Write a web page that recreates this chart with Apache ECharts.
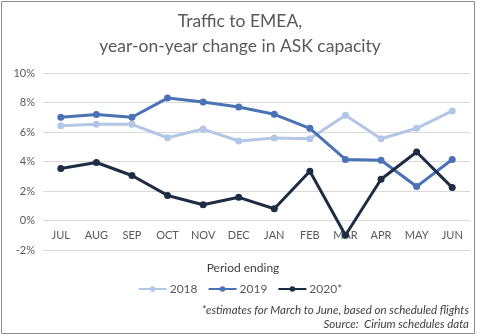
<!DOCTYPE html>
<html>
<head>
<meta charset="utf-8">
<style>
  html, body { margin: 0; padding: 0; background: #fff; }
  #chart { width: 480px; height: 336px; }
</style>
<script src="https://cdn.jsdelivr.net/npm/echarts@6/dist/echarts.min.js"></script>
</head>
<body>
<div id="chart"></div>
<script>
// Months of the period, July to June
const months = ['JUL', 'AUG', 'SEP', 'OCT', 'NOV', 'DEC', 'JAN', 'FEB', 'MAR', 'APR', 'MAY', 'JUN'];

// Year-on-year change in ASK capacity, %
const y2018 = [6.43, 6.52, 6.52, 5.61, 6.2, 5.39, 5.59, 5.54, 7.13, 5.54, 6.25, 7.43];
const y2019 = [7.0, 7.18, 7.0, 8.3, 8.04, 7.7, 7.2, 6.25, 4.14, 4.09, 2.3, 4.14];
const y2020 = [3.52, 3.93, 3.05, 1.7, 1.07, 1.57, 0.8, 3.34, -1.0, 2.8, 4.64, 2.23];

const seriesNames = ['2018', '2019', '2020*'];
const colors = ['#b4c6e6', '#4a72b5', '#1f2d44'];

const font = 'Lato, "Open Sans", sans-serif';
const grey = '#595959';

const chart = echarts.init(document.getElementById('chart'));

function line(name, data, color) {
  return {
    name: name,
    type: 'line',
    data: data,
    symbol: 'circle',
    symbolSize: 7,
    lineStyle: { width: 3, color: color },
    itemStyle: { color: color },
    emphasis: { disabled: true },
    animation: false
  };
}

function label(x, y, text, style) {
  return {
    type: 'text',
    x: x,
    y: y,
    silent: true,
    style: Object.assign({ text: text, fontFamily: font, verticalAlign: 'middle' }, style)
  };
}

chart.setOption({
  animation: false,
  textStyle: { fontFamily: font },
  graphic: [
    {
      type: 'rect',
      shape: { x: 1.5, y: 1.5, width: 473, height: 332 },
      style: { fill: null, stroke: '#8c8c8c', lineWidth: 1 },
      silent: true
    },
    label(240, 21, 'Traffic to EMEA,', { align: 'center', fontSize: 17.5, fill: grey }),
    label(240, 46, 'year-on-year change in ASK capacity', { align: 'center', fontSize: 17.5, fill: grey }),
    label(243, 268, 'Period ending', { align: 'center', fontSize: 12, fill: '#404040' }),
    label(469, 310, '*estimates for March to June, based on scheduled flights', { align: 'right', fontSize: 11.5, fontStyle: 'italic', fill: '#404040' }),
    label(469, 324, 'Source:  Cirium schedules data', { align: 'right', fontSize: 11.5, fontStyle: 'italic', fill: '#404040' })
  ],
  legend: {
    data: seriesNames,
    top: 278,
    left: 'center',
    itemWidth: 28,
    itemHeight: 7,
    itemGap: 10,
    textStyle: { fontFamily: font, fontSize: 12, color: grey, padding: [0, 0, 0, -2] },
    selectedMode: false
  },
  grid: { left: 43, right: 10, top: 73, bottom: 86 },
  xAxis: {
    type: 'category',
    data: months,
    boundaryGap: true,
    axisLine: { show: false },
    axisTick: { show: false },
    axisLabel: { color: grey, fontSize: 11, margin: -20, fontFamily: font }
  },
  yAxis: {
    type: 'value',
    min: -2,
    max: 10,
    interval: 2,
    axisLine: { show: false },
    axisTick: { show: false },
    axisLabel: { formatter: '{value}%', color: grey, fontSize: 11, margin: 8, fontFamily: font },
    splitLine: { lineStyle: { color: '#d9d9d9', width: 1 } }
  },
  series: [
    line(seriesNames[0], y2018, colors[0]),
    line(seriesNames[1], y2019, colors[1]),
    line(seriesNames[2], y2020, colors[2])
  ]
});
</script>
</body>
</html>
